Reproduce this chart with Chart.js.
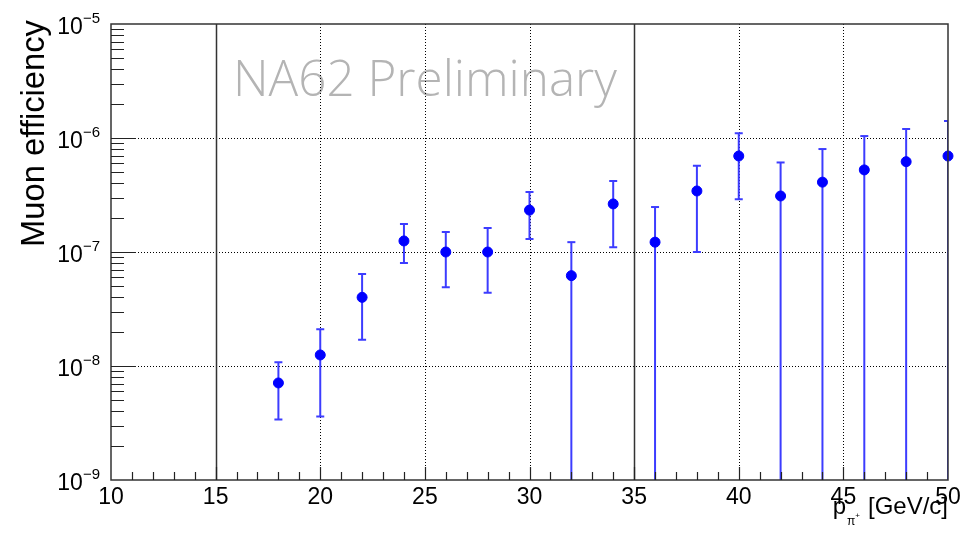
<!DOCTYPE html>
<html>
<head>
<meta charset="utf-8">
<script src="https://cdn.jsdelivr.net/npm/chart.js@4.4.1/dist/chart.umd.min.js"></script>
<style>
  html, body { margin: 0; padding: 0; background: #fff; }
  #wrap { width: 961px; height: 533px; }
</style>
</head>
<body>
<div id="wrap"><canvas id="eff" width="961" height="533"></canvas></div>
<script>
// pi+ momentum bins [GeV/c]
const momentum = [18, 20, 22, 24, 26, 28, 30, 32, 34, 36, 38, 40, 42, 44, 46, 48, 50];
const efficiency = [7.1e-9, 1.25e-8, 4.0e-8, 1.25e-7, 1.0e-7, 1.0e-7, 2.33e-7, 6.2e-8, 2.64e-7,
                    1.22e-7, 3.43e-7, 6.95e-7, 3.1e-7, 4.1e-7, 5.25e-7, 6.2e-7, 6.95e-7];
// error band edges (0 = bar runs down to the axis)
const upperBound = [1.08e-8, 2.1e-8, 6.4e-8, 1.76e-7, 1.5e-7, 1.62e-7, 3.36e-7, 1.22e-7, 4.2e-7,
                    2.48e-7, 5.7e-7, 1.1e-6, 6.1e-7, 8.0e-7, 1.04e-6, 1.2e-6, 1.41e-6];
const lowerBound = [3.4e-9, 3.6e-9, 1.7e-8, 8.0e-8, 4.9e-8, 4.4e-8, 1.3e-7, 0, 1.1e-7,
                    0, 1.0e-7, 2.9e-7, 0, 0, 0, 0, 0];

const xTicks = [10, 15, 20, 25, 30, 35, 40, 45, 50];
const yExponents = [-9, -8, -7, -6, -5];
const solidLines = [15, 35];
const yTitle = 'Muon efficiency';
const watermark = 'NA62 Preliminary';

const FONT = '"Liberation Sans", Arial, Helvetica, sans-serif';
const points = momentum.map((p, i) => ({ x: p, y: efficiency[i] }));

function fitFont(ctx, text, weight, family, width) {
  ctx.font = weight + ' 100px ' + family;
  return 100 * width / ctx.measureText(text).width;
}

const rootStyle = {
  id: 'rootStyle',
  beforeDatasetsDraw(chart) {
    const { ctx, chartArea: a, scales: { x, y } } = chart;
    ctx.save();

    // watermark sits under the grid
    const wsize = fitFont(ctx, watermark, '300', '"Open Sans", Lato, sans-serif', 384);
    ctx.font = '300 ' + wsize + 'px "Open Sans", Lato, sans-serif';
    ctx.fillStyle = '#b4b4b4';
    ctx.textBaseline = 'alphabetic';
    ctx.fillText(watermark, 233, 96);

    // dotted grid
    ctx.strokeStyle = '#000';
    ctx.lineWidth = 1;
    ctx.setLineDash([1, 2]);
    xTicks.forEach(v => {
      if (v <= x.min || v >= x.max || solidLines.includes(v)) return;
      const px = Math.round(x.getPixelForValue(v)) + 0.5;
      ctx.beginPath(); ctx.moveTo(px, a.top); ctx.lineTo(px, a.bottom); ctx.stroke();
    });
    yExponents.forEach(e => {
      const v = Math.pow(10, e);
      if (v <= y.min || v >= y.max) return;
      const py = Math.round(y.getPixelForValue(v)) + 0.5;
      ctx.beginPath(); ctx.moveTo(a.left, py); ctx.lineTo(a.right, py); ctx.stroke();
    });
    ctx.setLineDash([]);

    // asymmetric error bars
    ctx.beginPath();
    ctx.rect(a.left, a.top, a.right - a.left, a.bottom - a.top);
    ctx.clip();
    ctx.strokeStyle = 'rgb(60,60,255)';
    ctx.lineWidth = 2;
    momentum.forEach((p, i) => {
      const px = x.getPixelForValue(p);
      const hi = upperBound[i];
      const lo = lowerBound[i];
      const pyHi = y.getPixelForValue(Math.min(hi, y.max));
      const pyLo = y.getPixelForValue(Math.max(lo, y.min));
      ctx.beginPath(); ctx.moveTo(px, pyHi); ctx.lineTo(px, pyLo); ctx.stroke();
      ctx.beginPath();
      if (hi < y.max) { ctx.moveTo(px - 4, pyHi); ctx.lineTo(px + 4, pyHi); }
      if (lo > y.min) { ctx.moveTo(px - 4, pyLo); ctx.lineTo(px + 4, pyLo); }
      ctx.stroke();
    });
    ctx.restore();
  },
  afterDraw(chart) {
    const { ctx, chartArea: a, scales: { x, y } } = chart;
    ctx.save();
    ctx.strokeStyle = '#333';
    ctx.lineWidth = 1.5;

    // frame + the two solid verticals
    ctx.strokeRect(a.left, a.top, a.right - a.left, a.bottom - a.top);
    solidLines.forEach(v => {
      const px = Math.round(x.getPixelForValue(v)) + 0.5;
      ctx.beginPath(); ctx.moveTo(px, a.top); ctx.lineTo(px, a.bottom); ctx.stroke();
    });

    // ticks pointing inwards
    ctx.lineWidth = 1.2;
    ctx.strokeStyle = '#222';
    ctx.beginPath();
    for (let v = x.min + 1; v < x.max; v++) {
      const px = Math.round(x.getPixelForValue(v)) + 0.5;
      const len = v % 5 === 0 ? 13 : 8;
      ctx.moveTo(px, a.bottom); ctx.lineTo(px, a.bottom - len);
    }
    for (let e = -9; e < -5; e++) {
      for (let m = 1; m <= 9; m++) {
        const v = m * Math.pow(10, e);
        if (v <= y.min && m === 1 && e === -9) continue;
        const py = Math.round(y.getPixelForValue(v)) + 0.5;
        ctx.moveTo(a.left, py); ctx.lineTo(a.left + (m === 1 ? 25 : 13), py);
      }
    }
    ctx.stroke();

    // tick labels
    ctx.fillStyle = '#000';
    ctx.textBaseline = 'alphabetic';
    ctx.font = '23px ' + FONT;
    ctx.textAlign = 'center';
    xTicks.forEach(v => ctx.fillText(String(v), x.getPixelForValue(v), a.bottom + 24));

    ctx.textAlign = 'left';
    yExponents.forEach(e => {
      const py = y.getPixelForValue(Math.pow(10, e));
      const sup = '\u2212' + Math.abs(e);
      ctx.font = '15px ' + FONT;
      const ws = ctx.measureText(sup).width;
      ctx.font = '23px ' + FONT;
      const wb = ctx.measureText('10').width;
      const x0 = 100 - ws - wb;
      ctx.fillText('10', x0, py + 10);
      ctx.font = '15px ' + FONT;
      ctx.fillText(sup, x0 + wb, py - 1);
    });

    // x title: p_{pi+} [GeV/c]
    ctx.font = '24px ' + FONT;
    const unit = ' [GeV/c]';
    const wu = ctx.measureText(unit).width;
    const xu = 948 - wu;
    ctx.fillText(unit, xu, 514);
    ctx.font = '8px ' + FONT;
    ctx.fillText('+', xu - 6, 518);
    ctx.font = '12px ' + FONT;
    const wpi = ctx.measureText('\u03c0').width;
    ctx.fillText('\u03c0', xu - 6 - wpi, 525);
    ctx.font = '24px ' + FONT;
    const wp = ctx.measureText('p').width;
    ctx.fillText('p', xu - 7 - wpi - wp, 514);

    // y title, rotated, right-aligned to the top
    const tsize = fitFont(ctx, yTitle, '400', FONT, 227);
    ctx.translate(44, 20);
    ctx.rotate(-Math.PI / 2);
    ctx.font = tsize + 'px ' + FONT;
    ctx.textAlign = 'right';
    ctx.fillText(yTitle, 0, 0);
    ctx.restore();
  }
};

new Chart(document.getElementById('eff'), {
  type: 'scatter',
  data: {
    datasets: [{
      label: 'Muon efficiency',
      data: points,
      backgroundColor: '#0000ff',
      borderColor: '#0000ff',
      pointRadius: 5,
      pointBorderWidth: 1,
      pointHoverRadius: 5,
      showLine: false,
      clip: false
    }]
  },
  options: {
    responsive: false,
    animation: false,
    devicePixelRatio: 1,
    layout: { padding: { left: 111, right: 13, top: 24, bottom: 53 } },
    plugins: { legend: { display: false }, tooltip: { enabled: false } },
    scales: {
      x: { type: 'linear', min: 10, max: 50, display: false },
      y: { type: 'logarithmic', min: 1e-9, max: 1e-5, display: false }
    }
  },
  plugins: [rootStyle]
});
</script>
</body>
</html>
